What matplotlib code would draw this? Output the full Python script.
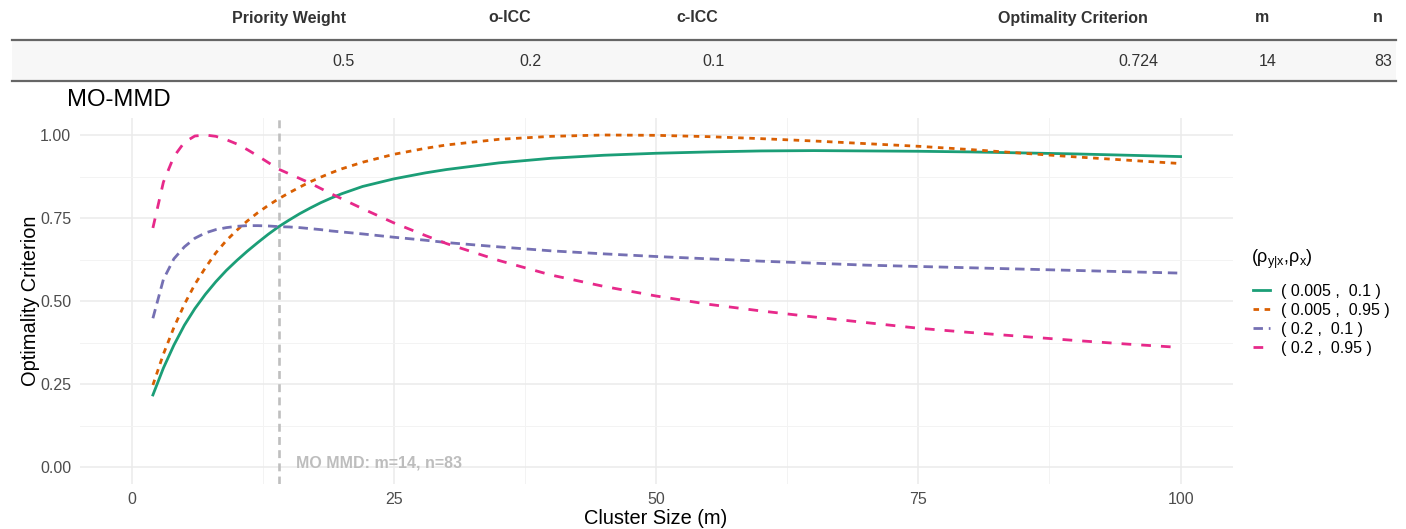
#!/usr/bin/env python3
import matplotlib
matplotlib.use("Agg")
import matplotlib.pyplot as plt
import numpy as np

plt.rcParams['font.family'] = ['Liberation Sans', 'DejaVu Sans']
plt.rcParams['mathtext.default'] = 'regular'

# summary table above the plot
table_headers = ["Priority Weight", "o-ICC", "c-ICC", "Optimality Criterion", "m", "n"]
table_values = ["0.5", "0.2", "0.1", "0.724", "14", "83"]

# cluster sizes and criterion values
m = np.array([2, 3, 4, 5, 6, 7, 8, 9, 10, 11, 12, 13, 14, 15, 16, 17, 18, 19, 20,
              22, 25, 28, 30, 35, 40, 45, 50, 55, 60, 65, 70, 75, 80, 85, 90, 95, 100])
crit_005_01 = [0.217, 0.298, 0.367, 0.427, 0.477, 0.520, 0.558, 0.592, 0.622, 0.650,
               0.676, 0.701, 0.724, 0.744, 0.763, 0.780, 0.796, 0.810, 0.823,
               0.845, 0.868, 0.886, 0.896, 0.916, 0.930, 0.939,
               0.945, 0.949, 0.952, 0.953, 0.952, 0.951, 0.949, 0.946, 0.943, 0.939, 0.935]
crit_005_095 = [0.247, 0.340, 0.420, 0.490, 0.550, 0.600, 0.645, 0.682, 0.713, 0.741,
                0.766, 0.788, 0.808, 0.826, 0.843, 0.859, 0.873, 0.886, 0.898,
                0.918, 0.942, 0.960, 0.970, 0.987, 0.996, 1.000,
                0.999, 0.995, 0.989, 0.982, 0.974, 0.966, 0.956, 0.945, 0.934, 0.924, 0.914]
crit_02_01 = [0.448, 0.565, 0.627, 0.663, 0.689, 0.705, 0.715, 0.721, 0.725, 0.727,
              0.727, 0.726, 0.724, 0.723, 0.721, 0.718, 0.715, 0.711, 0.708,
              0.702, 0.692, 0.683, 0.676, 0.663, 0.651, 0.642,
              0.634, 0.627, 0.620, 0.614, 0.608, 0.604, 0.600, 0.596, 0.592, 0.588, 0.584]
crit_02_095 = [0.720, 0.858, 0.935, 0.978, 0.997, 1.000, 0.996, 0.986, 0.973, 0.956,
               0.937, 0.917, 0.897, 0.883, 0.869, 0.855, 0.839, 0.823, 0.808,
               0.778, 0.735, 0.697, 0.673, 0.622, 0.578, 0.544,
               0.515, 0.490, 0.470, 0.452, 0.435, 0.418, 0.405, 0.393, 0.381, 0.370, 0.360]
series_labels = ["( 0.005 ,  0.1 )", "( 0.005 ,  0.95 )", "( 0.2 ,  0.1 )", "( 0.2 ,  0.95 )"]
opt_m = 14
opt_n = 83

W, H = 1406, 529
fig = plt.figure(figsize=(W / 100, H / 100), dpi=100)

# overlay in pixel coordinates for the table and outer texts
ov = fig.add_axes([0, 0, 1, 1], zorder=0)
ov.set_xlim(0, W)
ov.set_ylim(H, 0)
ov.axis('off')

ov.add_patch(plt.Rectangle((12, 41), 1384, 40, color='#f7f7f7', lw=0))
ov.plot([12, 1396], [40, 40], color='#666666', lw=1.6)
ov.plot([12, 1396], [81, 81], color='#666666', lw=1.6)
header_right = [346, 531, 718, 1148, 1269, 1383]
value_right = [355, 541, 725, 1158, 1277, 1392]
for hdr, val, hx, vx in zip(table_headers, table_values, header_right, value_right):
    ov.text(hx, 18, hdr, ha='right', va='center', fontsize=11.5,
            fontweight='bold', color='#333333')
    ov.text(vx, 61, val, ha='right', va='center', fontsize=11.5, color='#333333')

ov.text(67, 100, "MO-MMD", ha='left', va='center', fontsize=17.2, color='black')
ov.text(31, 301, "Optimality Criterion", rotation=90, ha='center', va='center',
        fontsize=14.4, color='black')
ov.text(656, 518, "Cluster Size (m)", ha='center', va='center', fontsize=14.4,
        color='black')
ov.text(1251, 259, r'$(\rho_{y|x}{,}\rho_x)$', ha='left', va='center', fontsize=13,
        color='black')

# main panel
ax = fig.add_axes([79.5 / W, (H - 483.6) / H, 1153.5 / W, 365.2 / H], zorder=1)
ax.patch.set_alpha(0)
ax.set_xlim(-5, 105)
ax.set_ylim(-0.05, 1.05)
ax.set_xticks([0, 25, 50, 75, 100])
ax.set_yticks([0, 0.25, 0.5, 0.75, 1.0])
ax.set_yticklabels(["0.00", "0.25", "0.50", "0.75", "1.00"])
ax.set_xticks([12.5, 37.5, 62.5, 87.5], minor=True)
ax.set_yticks([0.125, 0.375, 0.625, 0.875], minor=True)
ax.tick_params(which='both', length=0, labelsize=11.5, labelcolor='#4d4d4d', pad=6)
ax.grid(which='major', color='#ebebeb', lw=1.1)
ax.grid(which='minor', color='#f3f3f3', lw=0.7)
ax.set_axisbelow(True)
for s in ax.spines.values():
    s.set_visible(False)

colors = ['#1B9E77', '#D95F02', '#7570B3', '#E7298A']
styles = ['-', (0, (2, 2)), (0, (3.4, 2.1)), (0, (3.5, 3.6))]
for ys, c, ls, lab in zip([crit_005_01, crit_005_095, crit_02_01, crit_02_095],
                          colors, styles, series_labels):
    ax.plot(m, ys, color=c, ls=ls, lw=2.0, label=lab)

ax.axvline(opt_m, color='#bfbfbf', ls=(0, (3, 2)), lw=1.9, zorder=1)
ax.text(15.6, 0.0, f"MO MMD: m={opt_m}, n={opt_n}", ha='left', va='baseline',
        fontsize=11.5, fontweight='bold', color='#bdbdbd')

fig.legend(loc='upper left', bbox_to_anchor=(1253 / W, 1 - 284 / H), frameon=False,
           fontsize=11.5, handlelength=1.05, handletextpad=0.7, labelspacing=0.25,
           borderpad=0, borderaxespad=0)

fig.savefig("out.png", dpi=100)
